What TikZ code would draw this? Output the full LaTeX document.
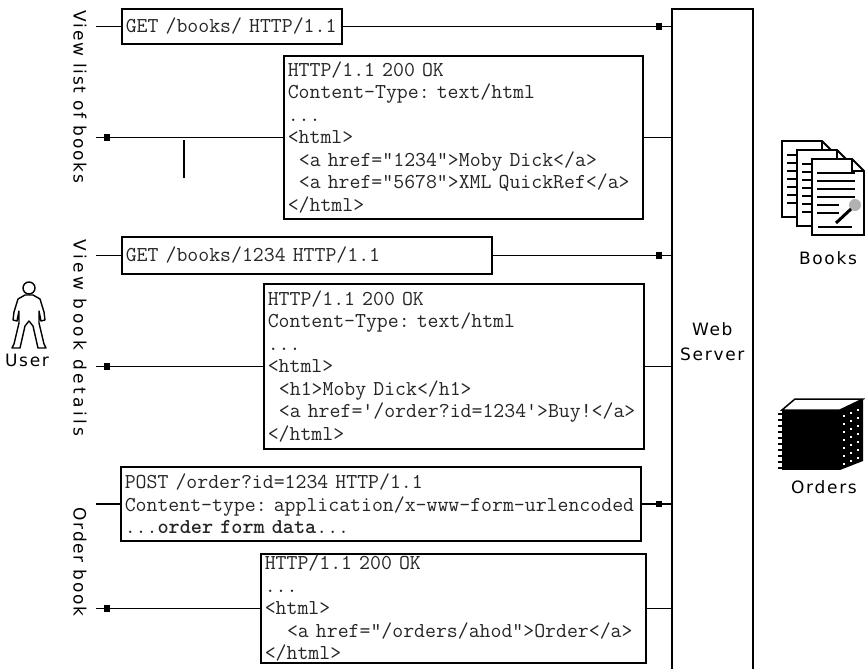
\documentclass[tikz,border=0pt]{standalone}
\usepackage{fontspec}
\newfontfamily\labelfont{DejaVu Sans}[LetterSpace=10]
\newcommand\codefnt{\ttfamily\fontsize{21.2}{22.5}\selectfont\frenchspacing}
\newcommand\labelfnt{\labelfont\fontsize{17}{25}\selectfont}
\newcommand\ind{\hspace*{0.525em}}

\begin{document}
\begin{tikzpicture}[x=1pt,y=-1pt,
  msg/.style 2 args={draw, line width=1.6pt, anchor=north west,
    inner xsep=4pt, inner ysep=0pt, text width=#1, minimum height=#2,
    align=left, font=\codefnt, text=black!85},
  conn/.style={line width=1.5pt},
  tip/.style={fill, inner sep=0pt, minimum size=6.5pt},
  lbl/.style={font=\labelfnt, inner sep=0pt},
  page/.style={fill=white, draw=black, line width=1.8pt, line join=miter}]

\useasboundingbox (0,0) rectangle (865,669);
\fill[white] (0,0) rectangle (865,669);

% web server column
\node[draw, line width=1.6pt, anchor=north west, minimum width=81pt,
      minimum height=666pt, inner sep=0pt, align=center, font=\labelfnt]
      (srv) at (671,8) {Web\\Server};

% use-case labels
\node[lbl, rotate=-90] (g1) at (80,97) {View list of books};
\node[lbl, rotate=-90] (g2) at (80,338) {\addfontfeatures{LetterSpace=20}View book details};
\node[lbl, rotate=-90] (g3) at (80,562) {Order book};

% messages
\node[msg={212pt}{35pt}] (r1) at (121,8) {GET /books/ HTTP/1.1};
\node[msg={351pt}{163pt}] (s1) at (283,55)
  {HTTP/1.1 200 OK\\Content-Type: text/html\\...\\<html>\\
   \ind<a href="1234">Moby Dick</a>\\\ind<a href="5678">XML QuickRef</a>\\</html>};
\node[msg={362pt}{37pt}] (r2) at (121,236) {GET /books/1234 HTTP/1.1};
\node[msg={372pt}{165pt}] (s2) at (263,283)
  {HTTP/1.1 200 OK\\Content-Type: text/html\\...\\<html>\\
   \ind<h1>Moby Dick</h1>\\\ind<a href='/order?id=1234'>Buy!</a>\\</html>};
\node[msg={512pt}{74pt}] (r3) at (120,466)
  {POST /order?id=1234 HTTP/1.1\\Content-type: application/x-www-form-urlencoded\\
   ...\textbf{order form data}...};
\node[msg={377pt}{109pt}] (s3) at (260,553)
  {HTTP/1.1 200 OK\\...\\<html>\\\ind\ind<a href="/orders/ahod">Order</a>\\</html>};

% reference x positions for line ends and markers
\coordinate (xl) at (96,0);
\coordinate (xm) at (107,0);
\coordinate (xr) at (659,0);

% requests: user -> server
\foreach \m/\t in {r1/t1, r2/t2, r3/t3} {
  \draw[conn] (\m.west -| xl) -- (\m.west);
  \draw[conn] (\m.east) -- (\m.east -| srv.west);
  \node[tip] (\t) at (\m.east -| xr) {};
}
% responses: server -> user
\foreach \m/\t in {s1/u1, s2/u2, s3/u3} {
  \draw[conn] (\m.east) -- (\m.east -| srv.west);
  \draw[conn] (\m.west) -- (\m.west -| xl);
  \node[tip] (\t) at (\m.west -| xm) {};
}
\draw[conn] (184,140) -- (184,178);

% user figure
\draw[line width=1.4pt, fill=white] (29,288) circle (6);
\filldraw[fill=white, draw=black, line width=1.4pt, line join=round]
  (25,295) -- (18,299) -- (14,312) -- (13,320) -- (17,321) -- (19,311)
  -- (19,323) -- (14,344) -- (12,348) -- (20,348) -- (25,326) -- (29,321)
  -- (33,326) -- (38,348) -- (46,348) -- (44,344) -- (39,323) -- (39,311)
  -- (41,321) -- (45,320) -- (44,312) -- (40,299) -- (33,295) -- cycle;
\node[lbl] (user) at (27,360) {User};

% books: stack of pages
\foreach \px/\py in {782/141, 797/150} {
  \filldraw[page] (\px,\py) -- ++(40,0) -- ++(12,12) -- ++(0,64) -- ++(-52,0) -- cycle;
  \draw[line width=1.5pt] (\px+40,\py) -- ++(0,12) -- ++(12,0);
  \foreach \k in {0,...,6} \draw[line width=2.6pt] (\px+5,\py+14+8*\k) -- ++(32,0);
}
\filldraw[page] (812,159) -- ++(40,0) -- ++(12,12) -- ++(0,64) -- ++(-52,0) -- cycle;
\draw[line width=1.5pt] (852,159) -- ++(0,12) -- ++(12,0);
\foreach \k in {0,...,3} \draw[line width=2.6pt] (817,173+8*\k) -- ++(38,0);
\foreach \k in {4,5} \draw[line width=2.6pt] (817,173+8*\k) -- ++(22,0);
\fill[gray!60] (855,205) circle (6);
\draw[line width=3pt] (836,223) -- (851,209);
\draw[line width=1.5pt] (818,227) -- (852,227);
\node[lbl] (books) at (828,258) {Books};

% orders: bound ledger
\fill (782,410) rectangle (840,470);
\fill (840,410) -- (863,399) -- (863,461) -- (840,470) -- cycle;
\filldraw[fill=white, draw=black, line width=1.5pt] (782,410) -- (795,399) -- (863,399) -- (840,410) -- cycle;
\foreach \i in {0,1,2} \foreach \j in {0,...,6}
  \fill[white] (843+7*\i, 415+8*\j-3*\i) rectangle ++(2.2,2.2);
\foreach \j in {0,...,9} \draw[line width=1.3pt] (778,414+6*\j) -- ++(5,0);
\node[lbl] (orders) at (824,487) {Orders};

\end{tikzpicture}
\end{document}
